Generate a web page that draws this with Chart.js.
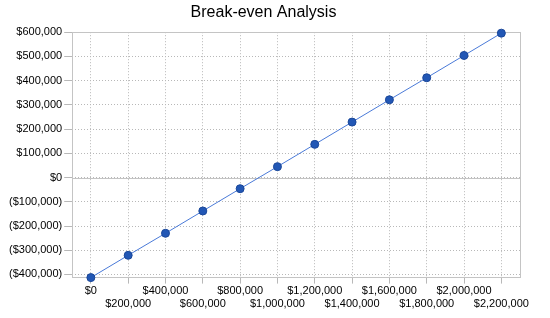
<!DOCTYPE html>
<html>
<head>
<meta charset="utf-8">
<script src="https://cdn.jsdelivr.net/npm/chart.js@4/dist/chart.umd.min.js"></script>
<style>
html,body{margin:0;padding:0;background:#fff;}
#wrap{width:550px;height:318px;position:relative;}
</style>
</head>
<body>
<div id="wrap"><canvas id="c" width="550" height="318"></canvas></div>
<script>
const categories = [0, 200000, 400000, 600000, 800000, 1000000, 1200000, 1400000, 1600000, 1800000, 2000000, 2200000];
const profitValues = [-413000, -321000, -230000, -138000, -46000, 45000, 137000, 229000, 321000, 412000, 504000, 596000];
const yTickValues = [-400000, -300000, -200000, -100000, 0, 100000, 200000, 300000, 400000, 500000, 600000];
const chartTitle = 'Break-even Analysis';

function money(v) {
  const s = '$' + Math.abs(v).toLocaleString('en-US');
  return v < 0 ? '(' + s + ')' : s;
}

const frame = {
  id: 'frame',
  beforeDatasetsDraw(chart) {
    const {ctx, chartArea: a, scales: {y}} = chart;
    ctx.save();
    ctx.strokeStyle = '#c4c4c4';
    ctx.lineWidth = 1;
    ctx.strokeRect(Math.round(a.left) + 0.5, Math.round(a.top) + 0.5, Math.round(a.right - a.left), Math.round(a.bottom - a.top));
    const zy = Math.round(y.getPixelForValue(0)) + 0.5;
    ctx.strokeStyle = '#c4c4c4';
    ctx.beginPath();
    ctx.moveTo(a.left, zy);
    ctx.lineTo(a.right, zy);
    ctx.stroke();
    ctx.restore();
  }
};

new Chart(document.getElementById('c'), {
  type: 'line',
  data: {
    labels: categories.map(money),
    datasets: [{
      data: profitValues,
      borderColor: '#4a7ad8',
      borderWidth: 1,
      backgroundColor: '#2257b5',
      pointBackgroundColor: '#2257b5',
      pointBorderColor: '#1a4799',
      pointBorderWidth: 1,
      pointRadius: 4,
      tension: 0,
      fill: false,
      clip: false
    }]
  },
  options: {
    responsive: false,
    animation: false,
    devicePixelRatio: 1,
    layout: {padding: {left: 7, right: 30, top: 0, bottom: 6}},
    plugins: {
      legend: {display: false},
      tooltip: {enabled: false},
      title: {
        display: true,
        text: chartTitle,
        color: '#000',
        font: {family: 'Liberation Sans, Arial, sans-serif', size: 16, weight: 'normal'},
        padding: {top: 3, bottom: 10}
      }
    },
    scales: {
      x: {
        offset: true,
        grid: {offset: false, color: '#b8b8b8', tickLength: 6, drawOnChartArea: true},
        border: {display: false, dash: [1, 2]},
        ticks: {
          color: '#000',
          font: {family: 'Liberation Sans, Arial, sans-serif', size: 11},
          maxRotation: 0,
          autoSkip: false,
          padding: 1,
          callback: function(v, i) {
            const l = this.getLabelForValue(v);
            return i % 2 === 0 ? [l, ''] : ['', l];
          }
        }
      },
      y: {
        min: -413000,
        max: 600000,
        afterBuildTicks: (s) => { s.ticks = yTickValues.map(v => ({value: v})); },
        grid: {color: '#b8b8b8', tickLength: 8},
        border: {display: false, dash: [1, 2]},
        ticks: {
          color: '#000',
          font: {family: 'Liberation Sans, Arial, sans-serif', size: 11},
          padding: 2,
          callback: (v) => money(v)
        }
      }
    }
  },
  plugins: [frame]
});
</script>
</body>
</html>
